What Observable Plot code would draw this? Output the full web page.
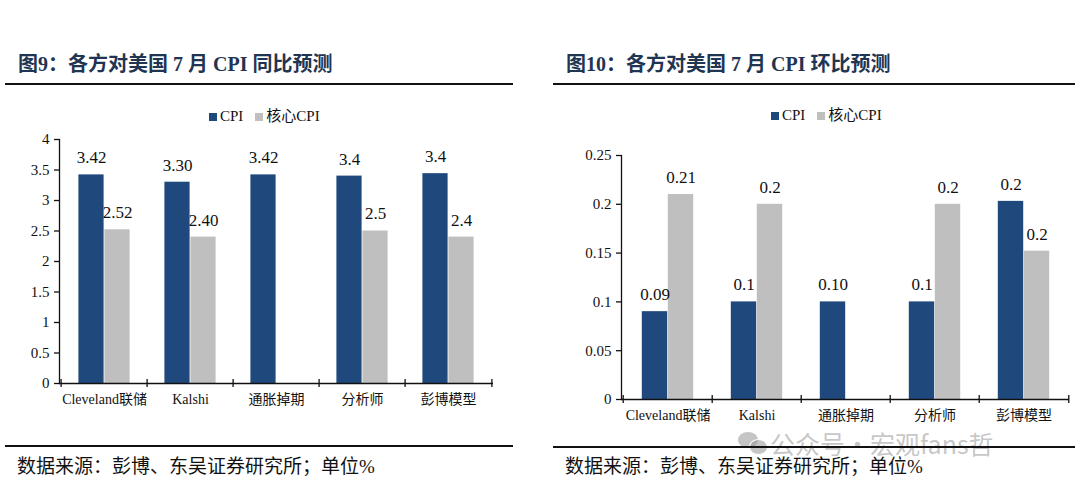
<!DOCTYPE html>
<html>
<head>
<meta charset="utf-8">
<script src="https://cdn.jsdelivr.net/npm/d3@7"></script>
<script src="https://cdn.jsdelivr.net/npm/@observablehq/plot@0.6"></script>
<style>
  html, body { margin: 0; padding: 0; background: #fff; }
  #page { position: relative; width: 1080px; height: 482px; overflow: hidden; background: #fff; }
  .title { position: absolute; font-family: "Liberation Serif", "Noto Sans CJK SC", serif; font-weight: bold; font-size: 20px; color: #1f3552; white-space: nowrap; line-height: 1; }
  .rule { position: absolute; height: 2px; background: #111; }
  .foot { position: absolute; font-family: "Liberation Serif", "Noto Sans CJK SC", serif; font-size: 19px; color: #111; white-space: nowrap; line-height: 1; }
  .legend { position: absolute; font-family: "Liberation Serif", "Noto Sans CJK SC", serif; font-size: 15px; color: #111; white-space: nowrap; line-height: 1; display: flex; align-items: center; }
  .legend .sw { display: inline-block; width: 8px; height: 8px; margin-right: 3px; }
  .legend .item { display: inline-flex; align-items: center; margin-right: 12px; }
  .chart { position: absolute; }
  .wm { position: absolute; font-family: "Noto Sans CJK SC", sans-serif; font-size: 25px; color: rgba(150,150,150,0.55); white-space: nowrap; line-height: 1; display: flex; align-items: center; height: 24px; }
</style>
</head>
<body>
<div id="page">
  <div class="title" style="left:18px; top:54px;">图9：各方对美国 7 月 CPI 同比预测</div>
  <div class="rule" style="left:5px; top:83px; width:508px;"></div>
  <div class="title" style="left:566px; top:54px;">图10：各方对美国 7 月 CPI 环比预测</div>
  <div class="rule" style="left:553px; top:83px; width:522px;"></div>

  <div class="legend" id="legL" style="left:209px; top:109px;"></div>
  <div class="legend" id="legR" style="left:771px; top:108px;"></div>

  <div class="chart" id="chartL" style="left:0px; top:130px;"></div>
  <div class="chart" id="chartR" style="left:540px; top:140px;"></div>

  <div class="wm" style="left:738px; top:431px;">
    <span style="display:inline-block; position:relative; width:30px; height:24px; margin-right:2px;">
      <span style="position:absolute; left:0; top:1px; width:20px; height:16px; border-radius:50%; background:rgba(150,150,150,0.55);"></span>
      <span style="position:absolute; left:11px; top:8px; width:17px; height:14px; border-radius:50%; background:rgba(150,150,150,0.55); border:1px solid #fff;"></span>
    </span><span>公众号・宏观fans哲</span></div>

  <div class="rule" style="left:5px; top:445px; width:508px;"></div>
  <div class="rule" style="left:553px; top:446px; width:522px;"></div>
  <div class="foot" style="left:17px; top:457px;">数据来源：彭博、东吴证券研究所；单位%</div>
  <div class="foot" style="left:565px; top:457px;">数据来源：彭博、东吴证券研究所；单位%</div>
</div>
<script>
// ---- data ----
const categories = ["Cleveland联储", "Kalshi", "通胀掉期", "分析师", "彭博模型"];
const seriesNames = ["CPI", "核心CPI"];

// 图9 同比 (YoY)
const yoyCPI = [3.42, 3.30, 3.42, 3.40, 3.44];
const yoyCore = [2.52, 2.40, null, 2.50, 2.40];
const yoyCPILabels = ["3.42", "3.30", "3.42", "3.4", "3.4"];
const yoyCoreLabels = ["2.52", "2.40", "", "2.5", "2.4"];
const yoyTicks = [0, 0.5, 1, 1.5, 2, 2.5, 3, 3.5, 4];

// 图10 环比 (MoM)
const momCPI = [0.09, 0.10, 0.10, 0.10, 0.203];
const momCore = [0.21, 0.20, null, 0.20, 0.152];
const momCPILabels = ["0.09", "0.1", "0.10", "0.1", "0.2"];
const momCoreLabels = ["0.21", "0.2", "", "0.2", "0.2"];
const momTicks = [0, 0.05, 0.1, 0.15, 0.2, 0.25];

const NAVY = "#1f497d";
const GRAY = "#bfbfbf";
const FONT = "'Liberation Serif', 'Noto Sans CJK SC', serif";

function legend(el) {
  const colors = [NAVY, GRAY];
  el.innerHTML = seriesNames.map((s, i) =>
    `<span class="item"><span class="sw" style="background:${colors[i]}"></span>${s}</span>`).join("");
}
legend(document.getElementById("legL"));
legend(document.getElementById("legR"));

function chart({cpi, core, cpiLab, coreLab, ticks, yMax, width, height, ml, mr, mt, mb}) {
  const bw = (width - ml - mr) / categories.length;
  const barW = 26;
  const plotH = height - mt - mb;
  const rows = categories.map((c, i) => ({cat: c, cpi: cpi[i], core: core[i], cpiLab: cpiLab[i], coreLab: coreLab[i]}));
  const cpiRows = rows.filter(d => d.cpi != null);
  const coreRows = rows.filter(d => d.core != null);
  return Plot.plot({
    width, height,
    marginLeft: ml, marginRight: mr, marginTop: mt, marginBottom: mb,
    style: {fontFamily: FONT, fontSize: "14px", color: "#111", background: "white", overflow: "visible"},
    x: {type: "band", domain: categories, padding: 0, label: null},
    y: {domain: [0, yMax], label: null},
    marks: [
      Plot.barY(cpiRows, {x: "cat", y: "cpi", fill: NAVY, insetLeft: bw / 2 - barW, insetRight: bw / 2}),
      Plot.barY(coreRows, {x: "cat", y: "core", fill: GRAY, insetLeft: bw / 2, insetRight: bw / 2 - barW}),
      Plot.text(cpiRows, {x: "cat", y: "cpi", text: "cpiLab", dx: -barW / 2, dy: -17, lineAnchor: "middle", fontSize: 17, fill: "#111"}),
      Plot.text(coreRows, {x: "cat", y: "core", text: "coreLab", dx: barW / 2, dy: -17, lineAnchor: "middle", fontSize: 17, fill: "#111"}),
      Plot.axisY({ticks, tickFormat: d => String(d), tickSize: 5, tickPadding: 5, fontSize: 15, label: null, stroke: "#111", strokeWidth: 1.3}),
      Plot.axisX({tickSize: 0, tickPadding: 11, fontSize: 14, label: null}),
      Plot.frame({anchor: "left", stroke: "#111", strokeWidth: 1.3}),
      Plot.ruleY([0], {stroke: "#111", strokeWidth: 1.3}),
      Plot.tickX(categories, {x: d => d, dx: -bw / 2, insetTop: plotH - 4, insetBottom: -4, stroke: "#111", strokeWidth: 1.3}),
      Plot.tickX([categories[categories.length - 1]], {x: d => d, dx: bw / 2, insetTop: plotH - 4, insetBottom: -4, stroke: "#111", strokeWidth: 1.3})
    ]
  });
}

document.getElementById("chartL").appendChild(chart({
  cpi: yoyCPI, core: yoyCore, cpiLab: yoyCPILabels, coreLab: yoyCoreLabels,
  ticks: yoyTicks, yMax: 4, width: 540, height: 290, ml: 59, mr: 47, mt: 9, mb: 37
}));
document.getElementById("chartR").appendChild(chart({
  cpi: momCPI, core: momCore, cpiLab: momCPILabels, coreLab: momCoreLabels,
  ticks: momTicks, yMax: 0.25, width: 540, height: 290, ml: 81, mr: 11, mt: 15, mb: 31
}));
</script>
</body>
</html>
